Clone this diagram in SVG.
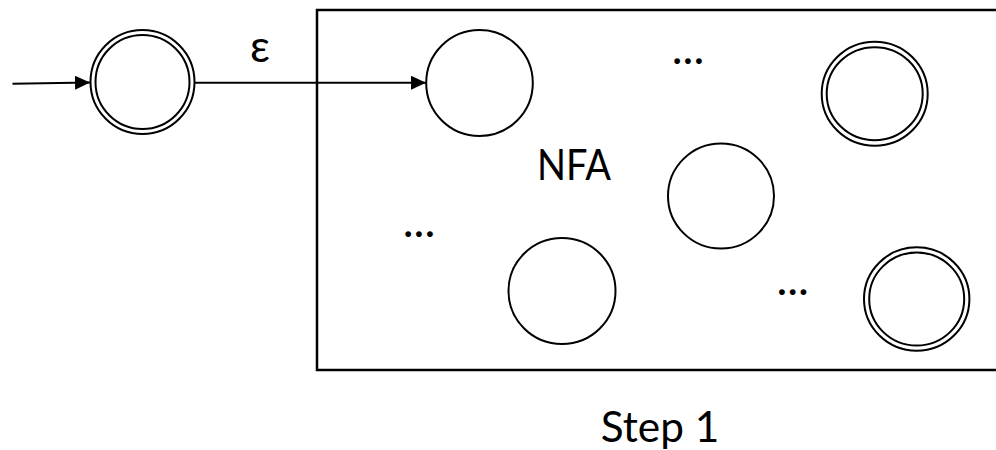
<svg xmlns="http://www.w3.org/2000/svg" width="996" height="450" viewBox="0 0 996 450">
  <style>
    .st { fill: #ffffff; stroke: #000000; stroke-width: 2; }
    .box { fill: none; stroke: #000000; stroke-width: 2.5; }
    .edge { fill: none; stroke: #000000; stroke-width: 2; }
    .lbl { font-family: "Lato", "Open Sans", "Liberation Sans", sans-serif; fill: #000000; text-anchor: middle; }
  </style>
  <defs>
    <marker id="arrow" markerUnits="userSpaceOnUse" markerWidth="16" markerHeight="14" refX="15" refY="7" orient="auto">
      <path d="M0,0 L15,7 L0,14 Z" fill="#000000"/>
    </marker>
  </defs>
  <rect width="996" height="450" fill="#ffffff"/>

  <g id="nfa-box">
    <rect class="box" x="317" y="10" width="700" height="360"/>
    <text class="lbl" x="574" y="180" font-size="42" textLength="74" lengthAdjust="spacingAndGlyphs">NFA</text>
  </g>

  <g id="connectors">
    <line class="edge" x1="12.5" y1="83.7" x2="90" y2="82.5" marker-end="url(#arrow)"/>
    <line class="edge" x1="194" y1="82.7" x2="426" y2="82.7" marker-end="url(#arrow)"/>
    <text class="lbl" x="260" y="62" font-size="44">ε</text>
  </g>

  <g id="start">
    <ellipse class="st" cx="142.5" cy="82" rx="52" ry="52"/>
    <ellipse class="st" cx="142.5" cy="82" rx="47" ry="47"/>
  </g>

  <g id="nfa-start">
    <ellipse class="st" cx="479.5" cy="83" rx="53.3" ry="53"/>
  </g>

  <g id="accept-top">
    <ellipse class="st" cx="874.7" cy="93.7" rx="53" ry="52"/>
    <ellipse class="st" cx="874.7" cy="93.7" rx="48" ry="46.5"/>
  </g>

  <g id="state-middle">
    <ellipse class="st" cx="721" cy="196" rx="53" ry="52.5"/>
  </g>

  <g id="state-bottom">
    <ellipse class="st" cx="562" cy="291" rx="53.5" ry="53"/>
  </g>

  <g id="accept-bottom">
    <ellipse class="st" cx="916.7" cy="299" rx="52.7" ry="51.7"/>
    <ellipse class="st" cx="916.7" cy="299" rx="47.5" ry="46.5"/>
  </g>

  <g id="ellipses">
    <text class="lbl" x="688" y="64" font-size="46">...</text>
    <text class="lbl" x="419" y="237" font-size="46">...</text>
    <text class="lbl" x="792.7" y="295" font-size="46">...</text>
  </g>

  <text class="lbl" x="660" y="441.7" font-size="42" textLength="118.6" lengthAdjust="spacingAndGlyphs">Step 1</text>
</svg>
